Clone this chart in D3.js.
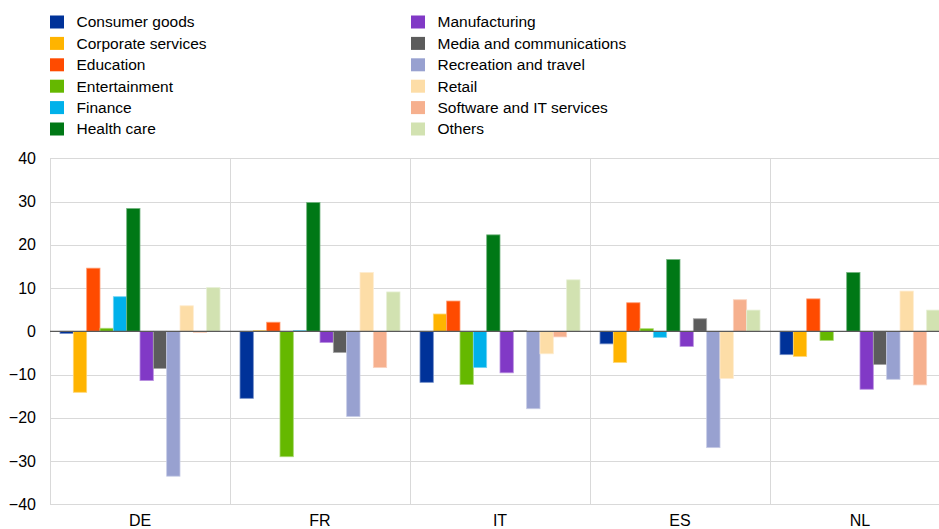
<!DOCTYPE html>
<html>
<head>
<meta charset="utf-8">
<script src="https://cdn.jsdelivr.net/npm/d3@7"></script>
<style>
  html, body { margin: 0; padding: 0; background: #fff; }
  svg { display: block; font-family: "Liberation Sans", Arial, sans-serif; }
</style>
</head>
<body>
<svg id="chart" width="939" height="529"></svg>
<script>
const countries = ["DE", "FR", "IT", "ES", "NL"];
const sectors = ["Consumer goods", "Corporate services", "Education", "Entertainment", "Finance", "Health care",
                 "Manufacturing", "Media and communications", "Recreation and travel", "Retail", "Software and IT services", "Others"];
const colors = ["#003299", "#FFB400", "#FF4B00", "#65B800", "#00B1EA", "#007816",
                "#8139C6", "#5C5C5C", "#98A1D0", "#FDDDA7", "#F6B08E", "#D2E2B1"];
// values per sector, in country order DE, FR, IT, ES, NL
const consumerGoods   = [-0.5, -15.5, -11.8, -2.9, -5.4];
const corporateServ   = [-14.1, 0.2, 4.0, -7.2, -5.8];
const education       = [14.6, 2.1, 7.0, 6.6, 7.5];
const entertainment   = [0.7, -29.0, -12.3, 0.6, -2.1];
const finance         = [8.0, 0.2, -8.4, -1.4, 0.0];
const healthCare      = [28.4, 29.8, 22.3, 16.6, 13.6];
const manufacturing   = [-11.4, -2.6, -9.6, -3.5, -13.4];
const mediaComm       = [-8.6, -4.9, 0.2, 2.9, -7.7];
const recreation      = [-33.5, -19.7, -17.9, -26.9, -11.1];
const retail          = [5.9, 13.6, -5.2, -10.9, 9.3];
const software        = [-0.3, -8.4, -1.3, 7.3, -12.4];
const others          = [10.1, 9.1, 11.9, 4.9, 4.9];
const yTicks = [40, 30, 20, 10, 0, -10, -20, -30, -40];

const seriesValues = [consumerGoods, corporateServ, education, entertainment, finance, healthCare,
                      manufacturing, mediaComm, recreation, retail, software, others];

const svg = d3.select("#chart");
const pLeft = 50, pRight = 950, pTop = 158.3, pBottom = 504.3;

const x0 = d3.scaleBand().domain(countries).range([pLeft, pRight]);
const x1 = d3.scaleBand().domain(sectors).range([10, x0.bandwidth() - 10]);
const y = d3.scaleLinear().domain([-40, 40]).range([pBottom, pTop]);
const color = d3.scaleOrdinal().domain(sectors).range(colors);

// horizontal gridlines
svg.append("g").selectAll("line").data(yTicks.filter(t => t !== 0)).join("line")
  .attr("x1", pLeft).attr("x2", pRight)
  .attr("y1", d => Math.round(y(d)) + 0.5).attr("y2", d => Math.round(y(d)) + 0.5)
  .attr("stroke", "#d9d9d9").attr("stroke-width", 1);

// vertical separators
svg.append("g").selectAll("line").data(countries).join("line")
  .attr("x1", d => Math.round(x0(d)) + 0.5).attr("x2", d => Math.round(x0(d)) + 0.5)
  .attr("y1", pTop).attr("y2", pBottom)
  .attr("stroke", "#d9d9d9").attr("stroke-width", 1);

// y axis labels
const yAxis = d3.axisLeft(y).tickValues(yTicks).tickSize(0).tickPadding(0);
const gy = svg.append("g").attr("transform", `translate(${pLeft - 14},0)`).call(yAxis);
gy.select(".domain").remove();
gy.selectAll("text").attr("font-size", 16).attr("fill", "#000")
  .attr("font-family", "Liberation Sans, Arial, sans-serif");

// x axis labels
const xAxis = d3.axisBottom(x0).tickSize(0).tickPadding(0);
const gx = svg.append("g").attr("transform", `translate(0,${pBottom + 10.5})`).call(xAxis);
gx.select(".domain").remove();
gx.selectAll("text").attr("font-size", 16).attr("fill", "#000")
  .attr("font-family", "Liberation Sans, Arial, sans-serif");

// bars
const data = [];
sectors.forEach((s, i) => countries.forEach((c, j) => data.push({ s, c, v: seriesValues[i][j] })));
svg.append("g").selectAll("rect").data(data).join("rect")
  .attr("x", d => x0(d.c) + x1(d.s))
  .attr("width", x1.bandwidth())
  .attr("y", d => Math.min(y(d.v), y(0)))
  .attr("height", d => Math.abs(y(d.v) - y(0)))
  .attr("fill", d => color(d.s))
  .attr("stroke", d => d3.interpolateRgb(color(d.s), "#fff")(0.45))
  .attr("stroke-width", 0.8);

// zero line
svg.append("line")
  .attr("x1", pLeft).attr("x2", pRight)
  .attr("y1", y(0)).attr("y2", y(0))
  .attr("stroke", "#595959").attr("stroke-width", 1.3);

// legend
const legend = svg.append("g");
sectors.forEach((s, i) => {
  const col = Math.floor(i / 6), row = i % 6;
  const lx = col === 0 ? 50 : 411;
  const ly = 22 + row * 21.4;
  legend.append("rect").attr("x", lx).attr("y", ly - 6.5).attr("width", 14).attr("height", 13)
    .attr("fill", color(s));
  legend.append("text").attr("x", lx + 26.5).attr("y", ly).attr("dy", "0.35em")
    .attr("font-size", 15.5).attr("fill", "#000").text(s);
});
</script>
</body>
</html>
